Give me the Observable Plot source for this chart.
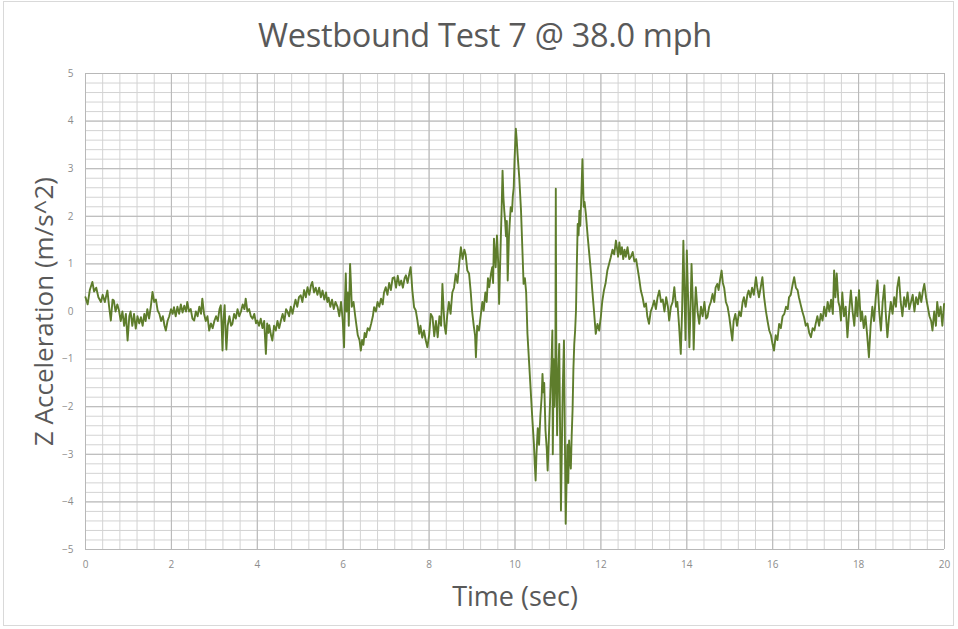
<!DOCTYPE html>
<html><head><meta charset="utf-8">
<script src="https://cdn.jsdelivr.net/npm/d3@7"></script>
<script src="https://cdn.jsdelivr.net/npm/@observablehq/plot@0.6"></script>
<style>
body{margin:0;background:#fff;font-family:"Open Sans",sans-serif;}
#wrap{position:relative;width:958px;height:629px;overflow:hidden;background:#fff}
#frame{position:absolute;left:3px;top:1px;width:951px;height:625px;border:1px solid #d9d9d9;box-sizing:border-box}
#title{position:absolute;left:0;top:15px;width:970px;text-align:center;font-size:32.5px;color:#595959;font-family:"Open Sans",sans-serif;line-height:40px;letter-spacing:-0.3px}
#chart{position:absolute;left:0;top:58px}
</style>
</head><body>
<div id="wrap"><div id="frame"></div><div id="title">Westbound Test 7 @ 38.0 mph</div><div id="chart"></div></div>
<script>
const titleText = "Westbound Test 7 @ 38.0 mph";
const xLabel = "Time (sec)";
const yLabel = "Z Acceleration (m/s^2)";
const xTicks = [0,2,4,6,8,10,12,14,16,18,20];
const yTicks = [-5,-4,-3,-2,-1,0,1,2,3,4,5];

const time = [
0,0.05,0.1,0.16,0.2,0.25,0.3,0.36,0.4,0.45,0.51,0.55,0.59,0.63,0.66,0.7,0.74,0.78,0.82,0.86,0.9,0.94,0.98,1.02,1.05,
1.09,1.13,1.17,1.21,1.25,1.29,1.33,1.37,1.4,1.44,1.48,1.52,1.56,1.6,1.64,1.68,1.72,1.76,1.8,1.84,1.87,1.91,1.95,1.99,
2.03,2.06,2.1,2.14,2.18,2.22,2.26,2.3,2.34,2.37,2.41,2.45,2.49,2.53,2.57,2.61,2.65,2.69,2.72,2.76,2.8,2.84,2.88,2.92,2.96,3.0,
3.04,3.08,3.12,3.15,3.17,3.19,3.21,3.24,3.26,3.28,3.31,3.35,3.39,3.42,3.46,3.5,3.54,3.58,3.62,3.66,3.7,3.73,3.77,3.81,3.85,3.89,3.93,3.97,4.0,
4.04,4.08,4.12,4.16,4.2,4.23,4.26,4.28,4.32,4.35,4.39,4.43,4.47,4.51,4.55,4.59,4.63,4.67,4.7,4.74,4.78,4.82,4.85,4.89,4.93,4.97,5.01,
5.05,5.09,5.13,5.17,5.21,5.25,5.28,5.32,5.36,5.4,5.44,5.48,5.52,5.56,5.6,5.63,5.66,5.7,5.74,5.78,5.82,5.87,5.91,5.95,5.99,6.02,6.04,6.06,6.08,6.11,6.13,6.16,6.18,6.2,
6.24,6.28,6.31,6.34,6.38,6.41,6.44,6.47,6.5,6.53,6.57,6.61,6.65,6.69,6.72,6.76,6.8,6.84,6.88,6.92,6.95,6.99,
7.03,7.07,7.11,7.15,7.19,7.23,7.27,7.31,7.35,7.39,7.43,7.46,7.5,7.54,7.57,7.59,7.61,7.65,7.69,7.73,7.77,7.8,7.84,7.88,7.92,7.96,8.0,
8.04,8.08,8.12,8.16,8.2,8.24,8.28,8.31,8.34,8.36,8.39,8.42,8.46,8.5,8.54,8.58,8.62,8.66,8.7,8.74,8.78,8.82,8.85,8.89,8.93,8.97,9.0,9.04,9.07,9.09,9.12,9.16,
9.2,9.24,9.27,9.31,9.34,9.37,9.4,9.44,9.47,9.49,9.51,9.53,9.55,9.58,9.61,9.63,9.66,9.69,9.71,9.73,9.75,9.77,9.79,9.81,9.83,9.86,9.88,9.9,9.93,9.95,9.97,9.99,10.02,10.04,10.06,10.1,10.14,
10.2,10.23,10.26,10.29,10.33,10.37,10.4,10.44,10.46,10.48,10.5,10.53,10.56,10.59,10.62,10.64,10.66,10.68,10.71,10.74,10.76,10.79,10.82,10.85,10.87,10.88,10.9,10.92,10.94,10.95,10.96,10.98,
11.0,11.03,11.05,11.07,11.09,11.11,11.14,11.16,11.18,11.2,11.22,11.24,11.26,11.28,11.3,11.32,11.34,11.36,11.38,11.4,11.42,11.44,11.46,11.48,11.5,11.52,11.54,11.57,11.59,11.6,11.62,11.65,11.69,11.73,11.77,11.8,11.84,11.88,11.92,11.96,12.0,
12.03,12.07,12.11,12.15,12.19,12.23,12.27,12.31,12.35,12.38,12.4,12.43,12.46,12.49,12.52,12.55,12.58,12.62,12.66,12.7,12.74,12.78,12.82,12.85,12.89,12.93,12.97,
13.01,13.05,13.08,13.12,13.16,13.2,13.24,13.28,13.32,13.36,13.4,13.44,13.48,13.52,13.56,13.59,13.63,13.67,13.71,13.75,13.78,13.82,13.86,13.89,13.92,13.95,13.97,14.0,
14.03,14.06,14.09,14.11,14.14,14.16,14.19,14.21,14.25,14.29,14.33,14.37,14.41,14.45,14.48,14.52,14.56,14.6,14.64,14.67,14.71,14.74,14.78,14.81,14.84,14.87,14.91,14.95,14.99,
15.03,15.06,15.09,15.13,15.17,15.22,15.26,15.3,15.33,15.37,15.41,15.44,15.48,15.52,15.56,15.61,15.64,15.68,15.72,15.76,15.8,15.84,15.88,15.92,15.96,16.0,16.03,
16.07,16.11,16.15,16.19,16.23,16.27,16.31,16.35,16.38,16.42,16.46,16.5,16.54,16.58,16.61,16.65,16.69,16.73,16.77,16.81,16.85,16.89,16.93,16.97,17.0,
17.04,17.08,17.12,17.16,17.2,17.24,17.28,17.32,17.36,17.4,17.43,17.46,17.49,17.53,17.56,17.59,17.62,17.66,17.7,17.74,17.78,17.82,17.86,17.9,17.94,17.97,18.01,18.05,18.08,18.12,
18.16,18.2,18.24,18.28,18.32,18.36,18.4,18.44,18.48,18.52,18.56,18.6,18.63,18.67,18.71,18.75,18.79,18.83,18.87,18.9,18.94,18.98,19.02,19.06,19.1,
19.14,19.18,19.22,19.26,19.3,19.34,19.38,19.42,19.46,19.5,19.53,19.57,19.61,19.65,19.69,19.72,19.76,19.8,19.83,19.87,19.91,19.95,19.99
];
const accel = [
0.3,0.15,0.45,0.62,0.42,0.5,0.3,0.2,0.35,0.2,0.44,0.1,-0.19,0.25,0.23,0.0,0.15,0.02,-0.2,0.0,-0.3,-0.05,-0.61,-0.1,0.0,
-0.3,-0.05,-0.36,-0.1,-0.25,-0.12,-0.3,-0.05,-0.2,0.05,-0.15,0.1,0.41,0.2,0.25,0.02,-0.05,-0.2,-0.1,-0.3,-0.4,-0.2,-0.1,0.05,
-0.05,0.09,-0.1,0.1,-0.05,0.15,-0.02,0.12,0.0,0.2,0.0,0.05,-0.15,-0.19,0.0,-0.1,0.1,-0.05,0.27,-0.05,-0.2,-0.1,-0.4,-0.25,-0.35,-0.2,
-0.1,-0.2,0.05,0.13,-0.3,-0.82,-0.2,0.13,-0.4,-0.8,-0.3,-0.1,-0.3,-0.26,-0.05,-0.15,0.05,-0.1,0.0,0.15,0.05,0.27,0.0,0.05,-0.1,-0.15,-0.05,-0.25,-0.19,
-0.3,-0.15,-0.35,-0.2,-0.89,-0.25,-0.45,-0.29,-0.5,-0.61,-0.3,-0.4,-0.2,-0.35,-0.19,-0.05,-0.2,0.05,0.0,-0.1,0.1,-0.05,0.09,0.25,0.1,0.3,0.34,
0.2,0.45,0.3,0.51,0.35,0.55,0.62,0.4,0.5,0.35,0.5,0.3,0.44,0.25,0.4,0.2,0.29,0.1,0.25,0.05,0.2,0.09,-0.1,0.2,-0.2,-0.75,0.2,0.8,0.0,0.4,-0.3,1.0,0.6,0.1,
0.2,-0.1,-0.3,-0.5,-0.6,-0.82,-0.6,-0.7,-0.45,-0.54,-0.35,-0.4,-0.26,-0.1,0.09,0.0,0.2,0.1,0.27,0.15,0.4,0.51,
0.35,0.6,0.45,0.7,0.72,0.5,0.75,0.55,0.65,0.5,0.7,0.76,0.6,0.8,0.93,0.7,0.44,0.09,0.02,-0.2,-0.47,-0.3,-0.55,-0.4,-0.6,-0.75,-0.5,
-0.05,-0.12,-0.52,-0.2,-0.54,-0.1,-0.3,0.58,0.0,-0.3,-0.47,-0.1,0.2,-0.05,0.4,0.5,0.79,0.6,1.0,1.35,1.1,1.3,1.2,0.86,0.8,0.4,0.02,-0.3,-0.5,-0.96,-0.3,-0.4,
-0.1,0.2,0.02,0.4,0.2,0.7,0.51,0.79,0.93,0.6,1.53,1.2,0.93,1.6,1.0,0.16,1.2,2.2,2.96,2.4,2.12,1.9,1.58,1.9,0.65,1.6,1.9,2.19,2.1,2.43,2.6,3.2,3.84,3.6,3.3,2.8,2.12,
0.58,0.7,0.4,-0.47,-1.1,-1.73,-2.2,-2.78,-3.2,-3.55,-3.0,-2.45,-2.8,-2.2,-1.8,-1.31,-1.7,-1.5,-2.5,-2.9,-3.34,-2.6,-1.8,-1.1,-0.4,-3.0,-1.0,-2.0,-1.2,2.58,-0.5,-2.6,
-1.5,-0.68,-2.5,-4.18,-2.9,-1.7,-0.61,-2.5,-4.46,-3.6,-2.8,-3.6,-2.71,-3.1,-3.3,-2.6,-2.08,-1.2,-0.68,-0.4,0.02,1.0,1.84,1.6,2.12,1.8,2.3,3.2,2.5,2.2,2.3,2.05,1.6,1.2,0.8,0.44,0.0,-0.47,-0.26,-0.4,-0.1,
0.2,0.44,0.6,0.86,1.0,1.14,1.3,1.2,1.49,1.3,1.15,1.45,1.2,1.35,1.1,1.3,1.15,1.35,1.1,1.15,1.25,1.05,1.1,0.93,0.7,0.44,0.3,
0.1,0.17,-0.1,-0.26,0.0,0.1,0.23,0.05,0.3,0.44,0.2,0.25,0.0,0.3,0.1,-0.19,0.1,0.2,0.51,0.1,0.2,-0.3,-0.89,0.0,1.49,0.2,-0.6,1.28,
0.3,-0.75,0.2,1.0,0.2,-0.8,0.1,0.51,0.0,-0.26,0.1,-0.1,0.2,-0.15,-0.12,0.1,0.2,0.37,0.2,0.5,0.58,0.45,0.7,0.86,0.6,0.5,0.2,0.1,-0.12,
-0.4,-0.61,-0.2,-0.05,-0.3,0.0,-0.1,0.2,0.3,0.1,0.35,0.44,0.3,0.5,0.35,0.72,0.5,0.3,0.5,0.72,0.3,0.02,-0.2,-0.4,-0.5,-0.7,-0.82,
-0.5,-0.6,-0.26,-0.35,-0.1,-0.05,0.1,0.05,0.3,0.35,0.55,0.72,0.5,0.45,0.3,0.15,0.0,-0.12,-0.3,-0.25,-0.45,-0.54,-0.35,-0.4,-0.26,
-0.1,-0.3,-0.05,-0.19,0.1,-0.1,0.2,0.0,0.25,-0.05,0.86,0.3,0.8,0.2,0.1,-0.19,0.4,-0.1,0.1,-0.54,0.0,0.44,0.0,-0.3,0.3,-0.1,0.45,-0.2,0.0,-0.35,
-0.1,-0.5,-0.96,-0.3,0.1,-0.2,0.3,0.65,0.0,-0.4,0.2,0.55,0.0,-0.54,-0.1,0.2,-0.05,0.3,0.1,0.5,0.72,0.2,-0.1,0.3,0.1,
0.4,0.05,0.2,0.35,0.0,0.3,0.15,0.4,0.2,0.45,0.58,0.3,0.1,-0.1,-0.2,-0.4,0.0,-0.3,0.2,-0.1,0.1,-0.3,0.16
];

const data = time.map((t, i) => ({t, a: accel[i]}));
const minorX = d3.range(0, 51).map(i => i * 0.4);
const minorY = d3.range(-25, 26).map(i => i * 0.2);

const chart = Plot.plot({
  width: 958,
  height: 571,
  marginLeft: 85,
  marginRight: 14,
  marginTop: 15,
  marginBottom: 80,
  style: {fontFamily: "'Open Sans', sans-serif", color: "#8c8c8c", background: "transparent"},
  x: {domain: [0, 20]},
  y: {domain: [-5, 5]},
  marks: [
    Plot.ruleX(minorX, {stroke: "#d3d3d3", strokeWidth: 1}),
    Plot.ruleY(minorY, {stroke: "#d3d3d3", strokeWidth: 1}),
    Plot.ruleX(xTicks, {stroke: "#b8b8b8", strokeWidth: 1}),
    Plot.ruleY(yTicks, {stroke: "#b8b8b8", strokeWidth: 1}),
    Plot.axisX({ticks: xTicks, tickSize: 0, tickPadding: 11, fontSize: 10, label: null}),
    Plot.axisY({ticks: yTicks, tickSize: 0, tickPadding: 12, fontSize: 10, label: null}),
    Plot.line(data, {x: "t", y: "a", stroke: "#5e7d2c", strokeWidth: 1.9, strokeLinejoin: "round"}),
    Plot.text([yLabel], {frameAnchor: "left", textAnchor: "middle", dx: -41, rotate: -90, text: d => d, fontSize: 26, fill: "#595959"}),
    Plot.text([xLabel], {frameAnchor: "bottom", textAnchor: "middle", dy: 56, text: d => d, fontSize: 27, fill: "#595959"})
  ]
});
document.getElementById("chart").appendChild(chart);
</script>
</body></html>
